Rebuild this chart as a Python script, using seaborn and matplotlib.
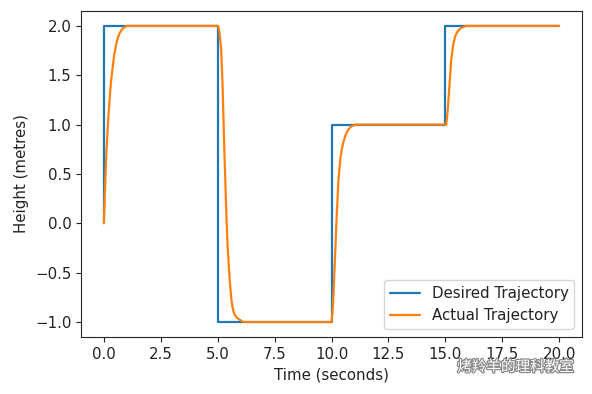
import matplotlib
matplotlib.use("Agg")
import matplotlib.pyplot as plt
import matplotlib.patheffects as pe
import seaborn as sns
import pandas as pd

# desired trajectory (step changes)
desired_t = [0, 0, 5, 5, 10, 10, 15, 15, 20]
desired_h = [0, 2, 2, -1, -1, 1, 1, 2, 2]

# actual trajectory
actual_t = [0, 0.03, 0.06, 0.12, 0.2, 0.31, 0.45, 0.52, 0.6, 0.7, 0.82, 0.92, 1.04,
            5.0, 5.04, 5.08, 5.15, 5.21, 5.29, 5.38, 5.44, 5.53, 5.61, 5.67, 5.73, 5.82, 5.92, 6.14,
            10.0, 10.05, 10.11, 10.17, 10.23, 10.30, 10.39, 10.45, 10.52, 10.61, 10.71, 10.85, 11.03,
            15.04, 15.11, 15.19, 15.26, 15.36, 15.43, 15.5, 15.6, 15.7, 15.92, 20.0]
actual_h = [0, 0.2, 0.42, 0.76, 1.09, 1.43, 1.70, 1.79, 1.87, 1.93, 1.97, 1.99, 2.0,
            2.0, 1.98, 1.93, 1.77, 1.43, 0.76, 0.09, -0.25, -0.59, -0.79, -0.87, -0.92, -0.95, -0.97, -1.0,
            -1.0, -0.88, -0.59, -0.25, 0.09, 0.42, 0.66, 0.75, 0.82, 0.89, 0.94, 0.98, 1.0,
            1.0, 1.16, 1.43, 1.66, 1.83, 1.89, 1.93, 1.96, 1.98, 2.0, 2.0]

watermark = "烤羚羊的理科教室"


def main():
    sns.set_style("ticks")
    plt.rcParams["font.family"] = ["DejaVu Sans", "Noto Sans CJK SC"]
    plt.rcParams["font.size"] = 10.8
    plt.rcParams["text.color"] = "#222222"
    plt.rcParams["axes.labelcolor"] = "#222222"
    plt.rcParams["xtick.color"] = "#222222"
    plt.rcParams["ytick.color"] = "#222222"

    desired = pd.DataFrame({"t": desired_t, "h": desired_h})
    actual = pd.DataFrame({"t": actual_t, "h": actual_h})

    fig = plt.figure(figsize=(5.92, 3.94), dpi=100)
    ax = fig.add_axes([0.137, 0.145, 0.846, 0.827])

    sns.lineplot(data=desired, x="t", y="h", sort=False, estimator=None,
                 color="#1f77b4", linewidth=1.6, label="Desired Trajectory", ax=ax)
    sns.lineplot(data=actual, x="t", y="h", sort=False, estimator=None,
                 color="#ff7f0e", linewidth=1.6, label="Actual Trajectory", ax=ax)

    ax.set_xlabel("Time (seconds)")
    ax.set_ylabel("Height (metres)")
    ax.set_xticks([0, 2.5, 5, 7.5, 10, 12.5, 15, 17.5, 20])
    ax.set_xlim(-1, 21)
    ax.set_ylim(-1.15, 2.15)
    ax.legend(loc="lower right")

    fig.text(0.97, 0.068, watermark, ha="right", va="center", fontsize=10.5,
             family=["Noto Sans CJK SC"], color="white",
             path_effects=[pe.withStroke(linewidth=1.8, foreground="#8a8a8a")])

    fig.savefig("out.png", dpi=100)


if __name__ == "__main__":
    main()
